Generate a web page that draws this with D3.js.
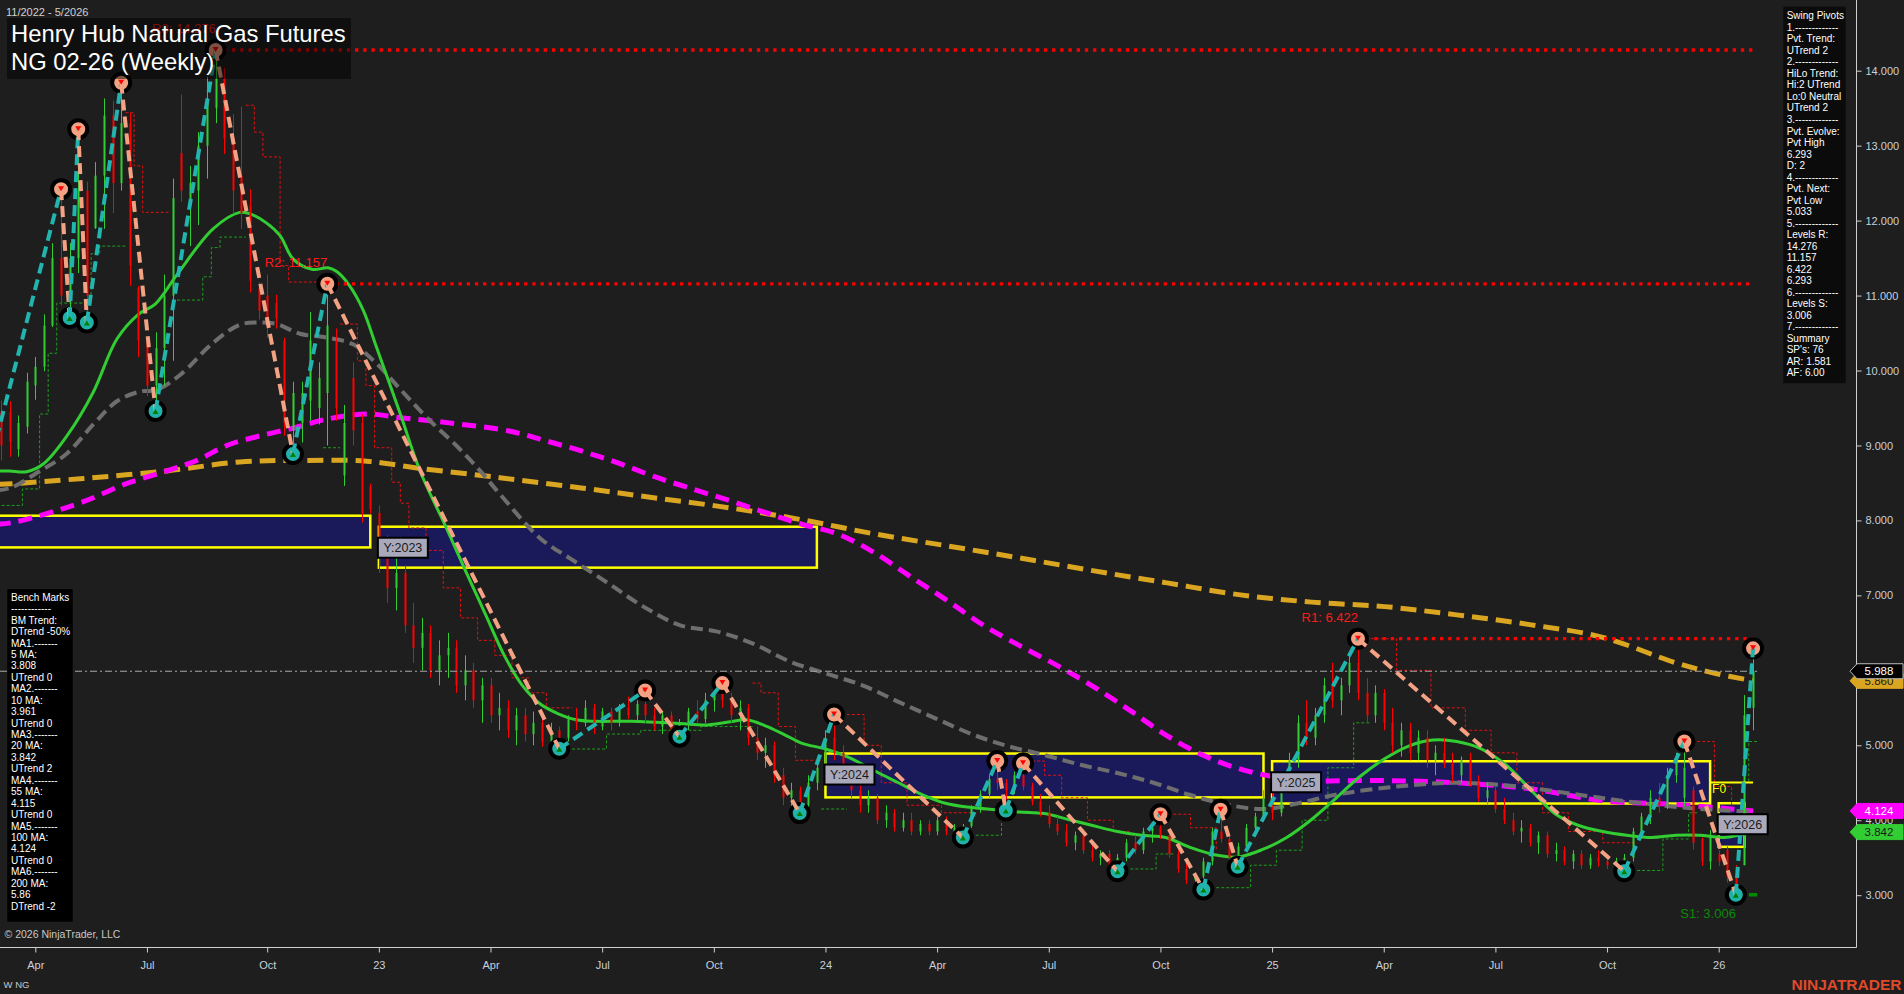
<!DOCTYPE html>
<html><head><meta charset="utf-8"><title>NG 02-26 Weekly</title>
<script src="https://cdn.jsdelivr.net/npm/d3@7/dist/d3.min.js"></script>
<style>
html,body{margin:0;padding:0;background:#1e1e1e;overflow:hidden;}
svg{display:block;}
text{font-family:"Liberation Sans",Arial,Helvetica,sans-serif;}
</style></head><body>
<svg id="chart" width="1904" height="994"></svg>
<script>
// ================= DATA =================
const titleLines = ["Henry Hub Natural Gas Futures", "NG 02-26 (Weekly)"];
const dateRangeLabel = "11/2022 - 5/2026";
const firstBarDate = "2022-03-04";   // weekly bars, Friday stamped
const lastBarDate  = "2026-01-30";
const priceTicks = [3,4,5,6,7,8,9,10,11,12,13,14];

// weekly bars: [open, high, low, close]
const weeklyBars = [
// 2022
[9.45,9.60,8.80,9.00],[9.45,9.59,8.85,9.05],[8.95,9.40,8.85,9.30],[9.25,9.97,9.16,9.85],
[9.80,10.18,9.61,10.05],[10.05,10.75,9.99,10.60],[10.60,11.70,10.58,11.50],[11.50,12.42,10.87,11.00],
[11.00,11.70,10.70,11.50],[11.50,13.22,11.30,12.40],[12.40,12.52,10.64,11.00],[11.90,12.78,11.89,12.60],
[12.60,13.63,11.89,13.40],[13.40,13.60,12.10,12.50],[12.50,13.84,12.40,13.30],[13.30,13.44,11.13,11.40],
[11.10,11.13,10.18,10.40],[10.40,10.42,9.66,9.80],[9.80,10.51,9.46,10.30],[10.30,11.28,9.80,11.00],
[11.00,12.56,10.13,12.30],[12.90,13.68,12.25,12.40],[12.20,12.73,11.66,12.50],[12.40,13.18,11.94,13.00],
[13.00,13.92,12.56,13.60],[13.50,14.276,13.30,13.90],[13.90,14.04,12.89,13.10],[13.10,13.42,12.09,12.40],
[12.60,13.52,11.89,12.10],[12.20,12.42,11.04,11.20],[11.10,11.18,10.68,10.80],[11.00,11.28,10.44,10.60],
[10.90,11.01,10.56,10.70],[10.40,10.44,9.13,9.30],[9.20,9.85,8.885,9.70],[9.30,9.85,9.04,9.70],
[9.60,10.78,9.33,10.40],[9.50,10.11,9.28,9.90],[9.70,11.157,9.00,10.60],[10.40,10.56,9.33,9.50],
[8.60,9.54,8.46,9.30],[9.90,10.11,9.00,9.20],[9.30,9.42,7.97,8.10],[8.45,8.49,8.09,8.15],
// 2023
[8.10,8.20,7.30,7.50],[7.50,7.80,6.90,7.10],[7.10,7.60,6.80,7.30],[7.30,7.40,6.50,6.60],
[6.60,6.90,6.10,6.30],[6.30,6.70,6.00,6.50],[6.50,6.60,5.90,6.00],[6.00,6.40,5.80,6.20],
[6.20,6.50,5.90,6.30],[6.30,6.40,5.70,5.80],[5.80,6.20,5.60,6.00],[6.00,6.10,5.50,5.60],
[5.60,5.90,5.30,5.80],[5.80,5.90,5.30,5.40],[5.40,5.70,5.20,5.50],[5.50,5.60,5.10,5.20],
[5.20,5.50,5.00,5.40],[5.40,5.50,5.05,5.15],[5.15,5.45,5.00,5.30],[5.30,5.35,4.98,5.05],
[5.05,5.30,4.97,5.20],[5.20,5.25,4.953,5.10],[5.10,5.40,5.05,5.35],[5.35,5.50,5.20,5.30],
[5.30,5.60,5.25,5.50],[5.50,5.55,5.15,5.25],[5.25,5.50,5.20,5.45],[5.45,5.50,5.20,5.30],
[5.30,5.55,5.25,5.50],[5.50,5.65,5.35,5.40],[5.40,5.60,5.30,5.55],[5.55,5.73,5.30,5.40],
[5.40,5.50,5.20,5.25],[5.25,5.45,5.15,5.40],[5.40,5.45,5.15,5.20],[5.20,5.35,5.115,5.30],
[5.30,5.50,5.20,5.45],[5.45,5.60,5.30,5.35],[5.35,5.70,5.30,5.60],[5.60,5.75,5.45,5.70],
[5.70,5.83,5.50,5.60],[5.60,5.70,5.30,5.40],[5.40,5.60,5.20,5.50],[5.50,5.55,5.00,5.10],
[5.10,5.25,4.80,4.90],[4.90,5.10,4.70,5.00],[5.00,5.05,4.50,4.60],[4.60,4.70,4.20,4.30],
[4.30,4.50,4.15,4.40],[4.40,4.45,4.095,4.20],
// 2024
[4.20,4.60,4.15,4.50],[4.50,4.80,4.40,4.70],[4.70,5.20,4.60,5.10],[5.10,5.41,4.80,4.90],
[4.90,5.00,4.50,4.60],[4.60,4.70,4.30,4.40],[4.40,4.50,4.10,4.20],[4.20,4.40,4.10,4.30],
[4.30,4.35,3.95,4.00],[4.00,4.20,3.90,4.10],[4.10,4.15,3.85,3.90],[3.90,4.10,3.85,4.00],
[4.00,4.10,3.80,3.85],[3.85,4.00,3.80,3.95],[3.95,4.00,3.80,3.85],[3.85,4.05,3.80,4.00],
[4.00,4.05,3.80,3.85],[3.85,3.95,3.78,3.90],[3.90,3.95,3.77,3.92],[3.92,4.20,3.90,4.15],
[4.15,4.40,4.10,4.35],[4.35,4.60,4.30,4.55],[4.55,4.79,4.40,4.50],[4.50,4.55,4.13,4.40],
[4.40,4.65,4.35,4.60],[4.60,4.76,4.40,4.45],[4.45,4.50,4.20,4.25],[4.25,4.35,4.05,4.10],
[4.10,4.20,3.90,3.95],[3.95,4.05,3.80,3.85],[3.85,3.95,3.65,3.70],[3.70,3.85,3.60,3.80],
[3.80,3.85,3.55,3.60],[3.60,3.70,3.45,3.50],[3.50,3.60,3.40,3.55],[3.55,3.60,3.35,3.40],
[3.40,3.55,3.32,3.50],[3.50,3.75,3.45,3.70],[3.70,3.80,3.55,3.60],[3.60,3.90,3.55,3.85],
[3.85,3.95,3.70,3.90],[3.90,4.08,3.75,3.80],[3.80,3.85,3.50,3.55],[3.55,3.60,3.30,3.35],
[3.35,3.45,3.15,3.20],[3.20,3.30,3.10,3.25],[3.25,3.50,3.075,3.45],[3.45,3.90,3.40,3.85],
[3.85,4.14,3.70,3.75],[3.75,3.80,3.45,3.50],[3.50,3.70,3.38,3.65],[3.65,3.95,3.60,3.90],
// 2025
[3.90,4.10,3.80,4.05],[4.05,4.40,4.00,4.30],[4.30,4.50,4.00,4.10],[4.10,4.60,4.05,4.50],
[4.50,4.90,4.40,4.80],[4.80,5.40,4.70,5.30],[5.30,5.60,5.00,5.10],[5.10,5.50,5.00,5.40],
[5.40,5.90,5.30,5.80],[5.80,6.10,5.50,5.60],[5.60,5.90,5.40,5.80],[5.80,6.20,5.70,6.10],
[6.10,6.422,5.60,5.70],[5.70,5.90,5.30,5.40],[5.40,5.80,5.30,5.70],[5.70,5.75,5.20,5.30],
[5.30,5.50,4.90,5.00],[5.00,5.30,4.85,5.20],[5.20,5.30,4.80,4.90],[4.90,5.20,4.80,5.10],
[5.10,5.20,4.70,4.80],[4.80,5.00,4.60,4.90],[4.90,5.10,4.70,4.75],[4.75,4.90,4.50,4.60],
[4.60,4.85,4.50,4.80],[4.80,4.90,4.45,4.50],[4.50,4.60,4.25,4.30],[4.30,4.50,4.20,4.40],
[4.40,4.45,4.10,4.15],[4.15,4.30,3.95,4.00],[4.00,4.10,3.80,3.85],[3.85,4.00,3.70,3.90],
[3.90,3.95,3.65,3.70],[3.70,3.85,3.55,3.80],[3.80,3.85,3.50,3.55],[3.55,3.70,3.45,3.60],
[3.60,3.65,3.40,3.45],[3.45,3.60,3.35,3.55],[3.55,3.60,3.35,3.40],[3.40,3.55,3.35,3.50],
[3.50,3.60,3.38,3.45],[3.45,3.55,3.35,3.40],[3.40,3.50,3.33,3.45],[3.45,3.55,3.32,3.50],
[3.50,3.90,3.45,3.85],[3.85,4.10,3.75,4.05],[4.05,4.40,3.95,4.30],[4.30,4.50,4.10,4.20],
[4.20,4.70,4.15,4.60],[4.60,4.90,4.50,4.80],[4.30,5.05,4.19,4.70],[4.40,4.45,3.61,3.70],
[3.75,3.77,3.39,3.45],[3.45,3.87,3.34,3.80],
// 2026
[3.55,3.60,3.39,3.45],[3.60,3.65,3.17,3.25],[3.25,3.40,3.006,3.10],[3.40,5.67,3.40,5.40],
[5.50,6.293,5.20,5.988]
];

// moving averages: [bar index, value]
const ma20 = [[-0.5,8.66],[1,8.66],[3,8.65],[5,8.76],[7.7,9.13],[10.7,9.70],[13.5,10.42],[16,10.75],[18,10.89],[20.5,11.28],[24.7,11.89],[27.8,12.11],[29,12.09],[30.9,11.97],[32.5,11.80],[34,11.49],[36.2,11.35],[38.1,11.37],[39.1,11.32],[40.6,11.13],[42.2,10.80],[43.7,10.32],[46.5,9.42],[48.8,8.66],[51.9,7.89],[54.2,7.30],[56.4,6.75],[58.6,6.20],[60.7,5.80],[62.8,5.55],[64.9,5.42],[67,5.34],[69.2,5.32],[73.4,5.32],[79.1,5.29],[81.9,5.27],[84.7,5.31],[86.8,5.34],[89,5.26],[91.1,5.15],[93.2,5.03],[96,4.95],[98.9,4.83],[101.7,4.66],[104.5,4.50],[107.3,4.34],[110.2,4.22],[113,4.17],[115.8,4.14],[118.6,4.11],[121.5,4.09],[124.3,4.01],[127.1,3.93],[130,3.85],[132.8,3.80],[135.6,3.77],[138.4,3.64],[141.3,3.54],[144.1,3.51],[146.9,3.61],[149.7,3.77],[152.6,4.01],[155.4,4.29],[158.2,4.58],[161.1,4.82],[163.9,4.99],[166.7,5.07],[169.5,5.05],[172.4,4.95],[175.2,4.74],[178,4.42],[180.9,4.09],[183.7,3.93],[186.5,3.85],[189.3,3.80],[192.2,3.77],[195,3.80],[197.8,3.80],[200.6,3.77],[204,3.842]];
const ma55 = [[-0.5,8.40],[1.25,8.44],[4.55,8.66],[7.65,8.89],[10.75,9.28],[13.5,9.59],[16.2,9.72],[18.1,9.74],[20.85,9.94],[24.7,10.37],[27.8,10.61],[29.8,10.64],[32.1,10.62],[34.8,10.49],[37.9,10.44],[41,10.35],[43.4,10.13],[46.5,9.75],[49.6,9.37],[53.1,8.99],[55.8,8.66],[58.1,8.35],[62.8,7.76],[66.3,7.49],[70.6,7.17],[74.8,6.85],[79.1,6.60],[83.3,6.52],[87.5,6.36],[91.8,6.12],[96,5.96],[100.3,5.80],[104.5,5.58],[108.8,5.36],[113,5.15],[117.2,4.99],[121.5,4.87],[125.7,4.74],[130,4.63],[134.2,4.50],[138.4,4.34],[142.7,4.21],[146.9,4.15],[151.2,4.23],[155.4,4.34],[162.5,4.45],[169.5,4.50],[176.6,4.45],[183.7,4.34],[190.8,4.23],[197.8,4.15],[204,4.115]];
const ma100 = [[-0.5,7.95],[1.25,7.97],[5.3,8.09],[9.6,8.25],[14.6,8.49],[19.3,8.66],[22.8,8.80],[26.3,9.00],[30.2,9.13],[34,9.23],[37.9,9.35],[42.6,9.42],[46.5,9.37],[52.3,9.30],[59.3,9.19],[63.5,9.06],[67.8,8.92],[72,8.76],[76.2,8.58],[80.5,8.42],[84.7,8.27],[88.9,8.11],[93.2,7.95],[97.4,7.82],[101.7,7.57],[105.9,7.25],[110.2,6.93],[114.4,6.60],[118.6,6.33],[122.9,6.07],[127.1,5.79],[131.4,5.47],[135.6,5.14],[139.9,4.87],[144.1,4.69],[148.3,4.58],[152.6,4.53],[161.1,4.53],[169.5,4.50],[178,4.42],[186.5,4.26],[195,4.21],[204,4.124]];
const ma200 = [[-0.5,8.48],[1.25,8.49],[9.6,8.56],[19.3,8.66],[27.8,8.78],[34.8,8.80],[42.6,8.79],[48.4,8.70],[58.1,8.57],[67.8,8.43],[76.2,8.30],[84.7,8.17],[93.2,8.01],[101.7,7.82],[110.2,7.66],[118.6,7.50],[127.1,7.33],[135.6,7.17],[144.1,7.01],[152.6,6.91],[161.1,6.85],[169.5,6.74],[178,6.61],[186.5,6.44],[195,6.10],[199.2,5.97],[204,5.86]];
const maLegendValues = {ma100: "4.124", ma20: "3.842", ma200: "5.860"};

// swing pivots: [bar index, price, type]
const swingPivots = [
[-3,8.00,"L"],[7,12.42,"H"],[8,10.70,"L"],[9,13.22,"H"],[10,10.64,"L"],[14,13.84,"H"],[18,9.46,"L"],
[25,14.276,"H"],[34,8.885,"L"],[38,11.157,"H"],[65,4.953,"L"],[75,5.73,"H"],[79,5.115,"L"],[84,5.83,"H"],
[93,4.095,"L"],[97,5.41,"H"],[112,3.77,"L"],[116,4.79,"H"],[117,4.13,"L"],[119,4.76,"H"],[130,3.32,"L"],
[135,4.08,"H"],[140,3.075,"L"],[142,4.14,"H"],[144,3.38,"L"],[158,6.422,"H"],[189,3.32,"L"],[196,5.05,"H"],
[202,3.006,"L"],[204,6.293,"H"]
];
const resistanceLevels = [["R3",14.276,25],["R2",11.157,38],["R1",6.422,158]];
const supportLevels = [["S1",3.006,202]];
const lastPrice = 5.988;
const fibLevel = ["F0", 4.503, 199];

// yearly range boxes: [year, first bar date, last bar date, top, bottom]
const yearBoxes = [
[2022,"2022-01-07","2022-12-30",8.063,7.640],
[2023,"2023-01-06","2023-12-29",7.916,7.370],
[2024,"2024-01-05","2024-12-27",4.890,4.305],
[2025,"2025-01-03","2025-12-26",4.787,4.223],
[2026,"2026-01-02","2026-01-23",4.227,3.645]
];

// trailing stop steps: [trend, [[bar index boundary, value], ...]]
const stopRuns = [
["up",[[-0.5,8.20],[2.5,8.42],[4.5,9.42],[5.5,10.23],[6.5,10.90],[10.5,11.56],[11.5,11.66],[14.5,11.66]]],
["down",[[14.5,13.44],[15.5,12.73],[16.5,12.11],[19.5,12.11]]],
["up",[[20.5,10.94],[23.5,11.25],[24.5,11.64],[25.5,11.78],[28.5,11.78]]],
["down",[[28.5,13.54],[29.5,13.18],[30.5,12.85],[32.5,11.40],[33.5,11.18],[37.5,11.18]]],
["up",[[37.5,8.97],[39.5,8.97]]],
["down",[[39.5,10.62],[41.5,10.13],[42.5,9.80],[43.5,8.97],[45.5,8.51],[46.5,8.23],[47.5,7.90],[49.5,7.60],[51.5,7.10],[53.5,6.70],[55.5,6.40],[57.5,6.20],[59.5,5.90],[61.5,5.70],[63.5,5.50],[66.5,5.50]]],
["up",[[66.5,4.95],[70.5,5.15],[74.5,5.20],[81.5,5.25],[87.5,5.25]]],
["down",[[87.5,5.83],[88.5,5.70],[90.5,5.25],[92.5,4.80],[95.5,4.80]]],
["up",[[95.5,4.15],[98.5,4.15]]],
["down",[[98.5,5.41],[100.5,5.00],[102.5,4.50],[105.5,4.20],[109.5,4.10],[113.5,4.05]]],
["up",[[113.5,3.80],[116.5,4.10],[119.5,4.13]]],
["down",[[119.5,4.79],[121.5,4.60],[123.5,4.30],[126.5,4.00],[129.5,3.85],[131.5,3.85]]],
["up",[[131.5,3.35],[134.5,3.55],[136.5,3.55]]],
["down",[[136.5,4.08],[138.5,3.90],[141.5,3.60]]],
["up",[[141.5,3.10],[145.5,3.40],[148.5,3.60],[151.5,4.00],[154.5,4.70],[157.5,5.30],[159.5,5.30]]],
["down",[[159.5,6.422],[162.5,6.00],[166.5,5.50],[170.5,5.20],[173.5,4.90],[176.5,4.50],[179.5,4.10],[182.5,3.85],[186.5,3.70],[190.5,3.70]]],
["up",[[190.5,3.33],[193.5,3.75],[196.5,4.10],[197.5,4.10]]],
["down",[[197.5,5.05],[199.5,4.45],[201.5,3.87],[203.5,3.87]]],
["up",[[203.5,4.52],[203.5,5.05],[204.5,5.05]]]
];

const swingPanelLines = ["Swing Pivots","1.-------------","Pvt. Trend:","UTrend 2","2.-------------","HiLo Trend:","Hi:2 UTrend","Lo:0 Neutral","UTrend 2","3.-------------","Pvt. Evolve:","Pvt High","6.293","D: 2","4.-------------","Pvt. Next:","Pvt Low","5.033","5.-------------","Levels R:","14.276","11.157","6.422","6.293","6.-------------","Levels S:","3.006","7.-------------","Summary","SP's: 76","AR: 1.581","AF: 6.00"];
const benchPanelLines = ["Bench Marks","------------","BM Trend:","DTrend -50%","MA1.-------","5 MA:","3.808","UTrend 0","MA2.-------","10 MA:","3.961","UTrend 0","MA3.-------","20 MA:","3.842","UTrend 2","MA4.-------","55 MA:","4.115","UTrend 0","MA5.-------","100 MA:","4.124","UTrend 0","MA6.-------","200 MA:","5.86","DTrend -2"];
const copyrightText = "\u00a9 2026 NinjaTrader, LLC";
const instrumentText = "W NG";
const brandText = "NINJATRADER";

// ================= DRAW =================
const W = 1904, H = 994, PR = 1856, PB = 947;
const svg = d3.select("#chart");
svg.append("rect").attr("width", W).attr("height", H).attr("fill", "#1e1e1e");

const parse = d3.utcParse("%Y-%m-%d");
const t0 = parse(firstBarDate);
const barDates = d3.utcFriday.range(t0, d3.utcDay.offset(parse(lastBarDate), 1));
const x = d3.scaleUtc().domain([parse("2022-04-01"), parse("2026-01-02")]).range([35.3, 1718.7]);
const xi = i => x(new Date(t0.getTime() + i * 7 * 864e5));
const y = d3.scaleLinear().domain([3, 14]).range([895.2, 70.7]);

const defs = svg.append("defs");
defs.append("clipPath").attr("id", "plot").append("rect").attr("x", 0).attr("y", 0).attr("width", PR).attr("height", PB);
const g = svg.append("g").attr("clip-path", "url(#plot)");

// year boxes
const boxG = g.append("g");
yearBoxes.forEach(b => {
  const x0 = x(parse(b[1])), x1 = x(parse(b[2]));
  boxG.append("rect").attr("x", x0).attr("y", y(b[3])).attr("width", x1 - x0).attr("height", y(b[4]) - y(b[3]))
    .attr("fill", "#191970").attr("fill-opacity", 0.75).attr("stroke", "#ffff00").attr("stroke-width", 2.5);
});

// trailing stop steps
const stepLine = d3.line().x(d => xi(d[0])).y(d => y(d[1])).curve(d3.curveStepAfter);
stopRuns.forEach(r => {
  g.append("path").attr("d", stepLine(r[1])).attr("fill", "none")
    .attr("stroke", r[0] === "up" ? "#1e9e1e" : "#e01010").attr("stroke-width", 1).attr("stroke-dasharray", "3,2");
});

// moving averages
const maLine = d3.line().x(d => xi(d[0])).y(d => y(d[1])).curve(d3.curveCatmullRom.alpha(0.5));
g.append("path").attr("d", maLine(ma200)).attr("fill", "none").attr("stroke", "#daa520").attr("stroke-width", 5).attr("stroke-dasharray", "16,8");
g.append("path").attr("d", maLine(ma100)).attr("fill", "none").attr("stroke", "#ff00ff").attr("stroke-width", 5).attr("stroke-dasharray", "14,8");
g.append("path").attr("d", maLine(ma55)).attr("fill", "none").attr("stroke", "#6e6e6e").attr("stroke-width", 4).attr("stroke-dasharray", "12,6");
g.append("path").attr("d", maLine(ma20)).attr("fill", "none").attr("stroke", "#32cd32").attr("stroke-width", 3);

// candles
const cG = g.append("g");
weeklyBars.forEach((d, i) => {
  const cx = Math.round(xi(i)) + 0.5;
  const col = d[3] >= d[0] ? "#32cd32" : "#ff0000";
  cG.append("line").attr("x1", cx).attr("x2", cx).attr("y1", y(d[1])).attr("y2", y(d[2])).attr("stroke", col).attr("stroke-width", 1);
  const yt = y(Math.max(d[0], d[3])), yb = y(Math.min(d[0], d[3]));
  cG.append("rect").attr("x", cx - 1).attr("y", yt).attr("width", 2).attr("height", Math.max(1, yb - yt)).attr("fill", col);
});

// last price dash-dot line
g.append("line").attr("x1", 0).attr("x2", xi(204) + 4).attr("y1", y(lastPrice)).attr("y2", y(lastPrice))
  .attr("stroke", "#a8a8a8").attr("stroke-width", 1).attr("stroke-dasharray", "7,3,2,3");

// resistance / support levels
const lastIdx = weeklyBars.length - 1;
resistanceLevels.forEach(r => {
  g.append("line").attr("x1", xi(r[2])).attr("x2", xi(lastIdx)).attr("y1", y(r[1])).attr("y2", y(r[1]))
    .attr("stroke", "#ff0000").attr("stroke-width", 3.3).attr("stroke-dasharray", "3.3,4.9");
  g.append("text").attr("x", xi(r[2])).attr("y", y(r[1]) - 17).attr("text-anchor", "end")
    .attr("fill", "#ff1a1a").attr("font-size", 13).text(r[0] + ": " + r[1].toFixed(3));
});
supportLevels.forEach(s => {
  g.append("line").attr("x1", xi(s[2])).attr("x2", xi(lastIdx) + 4).attr("y1", y(s[1])).attr("y2", y(s[1]))
    .attr("stroke", "#008c00").attr("stroke-width", 3.3).attr("stroke-dasharray", "9,4");
  g.append("text").attr("x", xi(s[2])).attr("y", y(s[1]) + 23).attr("text-anchor", "end")
    .attr("fill", "#0a8a0a").attr("font-size", 13).text(s[0] + ": " + s[1].toFixed(3));
});

// F0 level
g.append("line").attr("x1", xi(fibLevel[2])).attr("x2", xi(lastIdx)).attr("y1", y(fibLevel[1])).attr("y2", y(fibLevel[1]))
  .attr("stroke", "#ffff00").attr("stroke-width", 2);
g.append("text").attr("x", xi(fibLevel[2]) + 2).attr("y", y(fibLevel[1]) + 10).attr("fill", "#ffff00")
  .attr("font-size", 12).text(fibLevel[0]);

// swing pivot circles
const pvG = g.append("g");
swingPivots.forEach(p => {
  pvG.append("circle").attr("cx", xi(p[0])).attr("cy", y(p[1])).attr("r", 9)
    .attr("fill", p[2] === "H" ? "#f4a284" : "#20b2aa").attr("stroke", "#000").attr("stroke-width", 4);
});
// swing legs
const legG = g.append("g");
for (let k = 1; k < swingPivots.length; k++) {
  const a = swingPivots[k - 1], b = swingPivots[k];
  legG.append("line").attr("x1", xi(a[0])).attr("y1", y(a[1])).attr("x2", xi(b[0])).attr("y2", y(b[1]))
    .attr("stroke", b[2] === "H" ? "#22b4ae" : "#f4a284").attr("stroke-width", 4).attr("stroke-dasharray", "11,6");
}
// pivot marks
const mkG = g.append("g");
swingPivots.forEach(p => {
  const cx = xi(p[0]), cy = y(p[1]);
  if (p[2] === "H") mkG.append("path").attr("d", `M${cx-3},${cy-3}L${cx+3},${cy-3}L${cx},${cy+2}Z`).attr("fill", "#ff0000");
  else mkG.append("path").attr("d", `M${cx-3},${cy+3}L${cx+3},${cy+3}L${cx},${cy-2}Z`).attr("fill", "#008000");
});

// year box labels (only boxes that start inside the plot)
yearBoxes.forEach(b => {
  const x0 = x(parse(b[1]));
  if (x0 < 0) return;
  const lg = g.append("g");
  lg.append("rect").attr("x", x0 - 1).attr("y", y(b[3]) + 11).attr("width", 50).attr("height", 20)
    .attr("fill", "#a9a9bb").attr("stroke", "#000").attr("stroke-width", 2);
  lg.append("text").attr("x", x0 + 24).attr("y", y(b[3]) + 25.5).attr("text-anchor", "middle")
    .attr("font-family", "'DejaVu Sans Mono',monospace").attr("font-size", 12.5).attr("fill", "#1a1a1a").text("Y:" + b[0]);
});

// axes
svg.append("line").attr("x1", 0).attr("x2", PR + 0.5).attr("y1", PB + 0.5).attr("y2", PB + 0.5).attr("stroke", "#d0d0d0").attr("stroke-width", 1);
svg.append("line").attr("x1", PR + 0.5).attr("x2", PR + 0.5).attr("y1", 0).attr("y2", PB + 0.5).attr("stroke", "#d0d0d0").attr("stroke-width", 1);

const yAxis = svg.append("g").attr("transform", `translate(${PR + 0.5},0)`)
  .call(d3.axisRight(y).tickValues(priceTicks).tickFormat(d3.format(".3f")).tickSize(5).tickPadding(4));
yAxis.select(".domain").remove();
yAxis.selectAll("line").attr("stroke", "#d0d0d0");
yAxis.selectAll("text").attr("fill", "#c8d0dc").attr("font-size", 11).attr("font-family", "'Liberation Sans',Arial,sans-serif");

const tickDates = barDates.filter((d, i) => i > 0 && d.getUTCMonth() % 3 === 0 && barDates[i - 1].getUTCMonth() !== d.getUTCMonth());
const mfmt = d3.utcFormat("%b"), yfmt = d3.utcFormat("%y");
const xAxis = svg.append("g").attr("transform", `translate(0,${PB + 0.5})`)
  .call(d3.axisBottom(x).tickValues(tickDates).tickFormat(d => d.getUTCMonth() === 0 ? yfmt(d) : mfmt(d)).tickSize(5).tickPadding(9));
xAxis.select(".domain").remove();
xAxis.selectAll("line").attr("stroke", "#d0d0d0");
xAxis.selectAll("text").attr("fill", "#c8d0dc").attr("font-size", 11).attr("font-family", "'Liberation Sans',Arial,sans-serif");

// right-side value labels
function priceTag(v, fill, textFill, label, stroke) {
  const cy = y(v);
  svg.append("path").attr("d", `M1850,${cy}L1857,${cy-7.5}L1903,${cy-7.5}L1903,${cy+7.5}L1857,${cy+7.5}Z`)
    .attr("fill", fill).attr("stroke", stroke || fill).attr("stroke-width", 1);
  svg.append("text").attr("x", 1879).attr("y", cy + 4).attr("text-anchor", "middle").attr("font-size", 11.5)
    .attr("fill", textFill).text(label);
}
priceTag(5.86, "#daa520", "#1a1a1a", maLegendValues.ma200);
priceTag(lastPrice, "#000000", "#ffffff", lastPrice.toFixed(3), "#bdbdbd");
priceTag(4.124, "#ff00ff", "#ffffff", maLegendValues.ma100);
priceTag(3.842, "#32cd32", "#1a1a1a", maLegendValues.ma20);

// title
svg.append("rect").attr("x", 7).attr("y", 18).attr("width", 344).attr("height", 61).attr("fill", "#000").attr("fill-opacity", 0.5);
svg.append("text").attr("x", 11).attr("y", 41.5).attr("fill", "#fff").attr("font-size", 23.8).text(titleLines[0]);
svg.append("text").attr("x", 11).attr("y", 70).attr("fill", "#fff").attr("font-size", 23.8).text(titleLines[1]);
svg.append("text").attr("x", 6).attr("y", 15.5).attr("fill", "#d0d0d0").attr("font-size", 11).text(dateRangeLabel);

// swing pivots panel
svg.append("rect").attr("x", 1783.3).attr("y", 6.7).attr("width", 62.4).attr("height", 376.5).attr("fill", "#0b0b0b");
swingPanelLines.forEach((t, k) => {
  svg.append("text").attr("x", 1786.7).attr("y", 15.7 + k * 11.52 + 3.6).attr("fill", "#fff").attr("font-size", 10).text(t);
});
// bench marks panel
svg.append("rect").attr("x", 7.3).attr("y", 589).attr("width", 65.4).attr("height", 332.7).attr("fill", "#000");
benchPanelLines.forEach((t, k) => {
  svg.append("text").attr("x", 11).attr("y", 597.3 + k * 11.43 + 3.6).attr("fill", "#fff").attr("font-size", 10).text(t);
});

svg.append("text").attr("x", 4.5).attr("y", 938.2).attr("fill", "#c8c8c8").attr("font-size", 10.5).text(copyrightText);
svg.append("text").attr("x", 3.6).attr("y", 987.5).attr("fill", "#c8c8c8").attr("font-size", 9.5).text(instrumentText);
svg.append("text").attr("x", 1901.5).attr("y", 989.5).attr("text-anchor", "end").attr("fill", "#e04a2a")
  .attr("font-size", 15.5).attr("font-weight", "bold").text(brandText);
</script></body></html>
